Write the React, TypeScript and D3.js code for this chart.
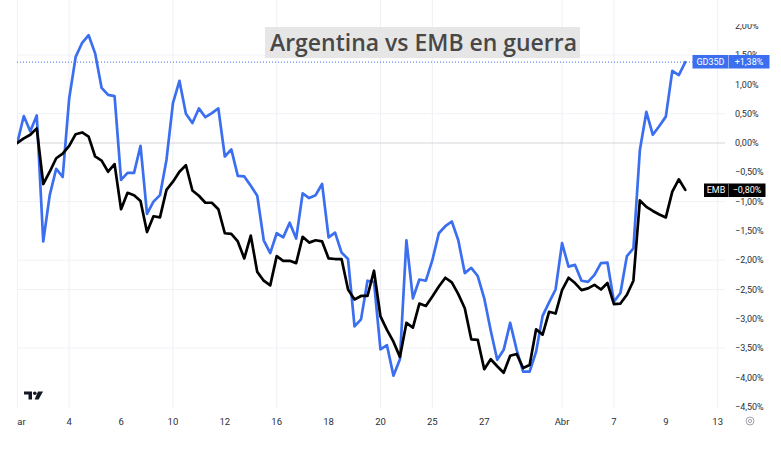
import React from "react";
import * as d3 from "d3";

// % change since start, one value per bar (4 bars per trading day)
const gd35d = [
  0.0, 0.46, 0.2, 0.47, -1.68, -0.89, -0.44, -0.58, 0.76, 1.47, 1.71, 1.84, 1.53, 0.94, 0.82, 0.8,
  -0.63, -0.51, -0.51, -0.05, -1.21, -1.0, -0.89, -0.29, 0.68, 1.06, 0.5, 0.34, 0.59, 0.44, 0.51, 0.59,
  -0.23, -0.11, -0.56, -0.57, -0.73, -0.9, -1.66, -1.88, -1.54, -1.61, -1.36, -1.63, -0.86, -0.94, -0.89, -0.7,
  -1.61, -1.53, -1.87, -1.98, -3.13, -3.01, -2.35, -2.37, -3.52, -3.45, -3.97, -3.69, -1.66, -2.65, -2.33, -2.35,
  -2.0, -1.54, -1.42, -1.34, -1.66, -2.22, -2.13, -2.27, -2.65, -3.2, -3.7, -3.53, -3.07, -3.53, -3.9, -3.9,
  -3.56, -2.95, -2.72, -2.5, -1.71, -2.11, -2.08, -2.35, -2.37, -2.25, -2.05, -2.04, -2.71, -2.56, -1.93, -1.8,
  -0.12, 0.53, 0.14, 0.29, 0.45, 1.23, 1.16, 1.38,
];

const emb = [
  0.0, 0.08, 0.14, 0.25, -0.7, -0.49, -0.26, -0.18, -0.05, 0.15, 0.18, 0.11, -0.23, -0.3, -0.49, -0.36,
  -1.13, -0.85, -0.89, -0.99, -1.52, -1.25, -1.27, -0.8, -0.66, -0.49, -0.38, -0.81, -0.9, -1.02, -1.02, -1.13,
  -1.54, -1.55, -1.68, -1.97, -1.58, -2.2, -2.35, -2.43, -1.93, -2.01, -2.01, -2.05, -1.6, -1.7, -1.66, -1.68,
  -1.97, -1.98, -1.98, -2.5, -2.67, -2.61, -2.61, -2.18, -2.96, -3.19, -3.39, -3.65, -3.07, -3.15, -2.74, -2.78,
  -2.62, -2.45, -2.3, -2.38, -2.58, -2.82, -3.35, -3.36, -3.86, -3.69, -3.81, -3.92, -3.63, -3.6, -3.84, -3.79,
  -3.18, -3.27, -2.88, -2.91, -2.51, -2.3, -2.39, -2.51, -2.48, -2.42, -2.5, -2.39, -2.75, -2.74, -2.59, -2.35,
  -0.98, -1.09, -1.16, -1.22, -1.27, -0.83, -0.62, -0.8,
];

// bottom axis: bar index of each label
const tickBars = [0, 8, 16, 24, 32, 40, 48, 56, 64, 72, 84, 92, 100, 108];
const tickLabels = ["Mar", "4", "6", "10", "12", "16", "18", "20", "25", "27", "Abr", "7", "9", "13"];
const tickGrid = [true, true, false, true, false, true, false, true, true, false, true, true, false, true];

const yTicks = [2, 1.5, 1, 0.5, 0, -0.5, -1, -1.5, -2, -2.5, -3, -3.5, -4, -4.5];
const yGrid = [1.5, 0.5, -1, -2, -2.5, -3.5];

const W = 781;
const H = 451;
const BLUE = "#3b6ff0";
const FONT = "Roboto, 'Liberation Sans', sans-serif";

const locale = d3.formatLocale({
  decimal: ",",
  thousands: ".",
  grouping: [3],
  currency: ["", ""],
  minus: "\u2212",
});
const fmtAxis = locale.format(".2f");
const fmtSigned = locale.format("+.2f");

export default function App() {
  const x = d3.scaleLinear().domain([0, 108]).range([17.3, 717.7]);
  const y = d3.scaleLinear().domain([-4.5, 2]).range([406.7, 25.8]);

  const line = d3
    .line<number>()
    .x((_, i) => x(i))
    .y((d) => y(d));

  const lastBlue = gd35d[gd35d.length - 1];
  const lastBlack = emb[emb.length - 1];

  return (
    <svg
      width={W}
      height={H}
      style={{ position: "absolute", left: 0, top: 0, background: "#fff" }}
      fontFamily={FONT}
    >
      <defs>
        <clipPath id="pane">
          <rect x={17} y={0} width={730} height={410} />
        </clipPath>
        <clipPath id="axisR">
          <rect x={17} y={24} width={764} height={418} />
        </clipPath>
        <clipPath id="axisB">
          <rect x={17} y={410} width={720} height={30} />
        </clipPath>
      </defs>

      {/* grid */}
      <g clipPath="url(#pane)">
        {tickBars.map((b, i) =>
          tickGrid[i] ? (
            <line key={"v" + i} x1={x(b)} x2={x(b)} y1={0} y2={408} stroke="#eef0f4" strokeWidth={1} />
          ) : null
        )}
        {yGrid.map((v) => (
          <line key={"h" + v} x1={17} x2={725} y1={y(v)} y2={y(v)} stroke="#f0f2f6" strokeWidth={1} />
        ))}
        <line x1={17} x2={725} y1={y(0)} y2={y(0)} stroke="#d4d6da" strokeWidth={1} />
      </g>

      {/* last value line of GD35D */}
      <line
        x1={17}
        x2={693}
        y1={y(lastBlue)}
        y2={y(lastBlue)}
        stroke={BLUE}
        strokeWidth={1}
        strokeDasharray="1 2"
      />

      {/* title */}
      <rect x={265} y={27} width={315} height={31} fill="#e6e6e6" />
      <text
        x={270}
        y={50.5}
        fontFamily="'Open Sans', 'Noto Sans', sans-serif"
        fontWeight={600}
        fontSize={24}
        fill="#484848"
        textLength={307}
        lengthAdjust="spacingAndGlyphs"
      >
        Argentina vs EMB en guerra
      </text>

      {/* series */}
      <g clipPath="url(#pane)" fill="none" strokeLinejoin="round" strokeLinecap="round">
        <path d={line(gd35d) || ""} stroke={BLUE} strokeWidth={2.7} />
        <path d={line(emb) || ""} stroke="#000" strokeWidth={2.7} />
      </g>

      {/* right axis */}
      <g clipPath="url(#axisR)" fontSize={9} fill="#2a2e39">
        {yTicks.map((v) => (
          <text key={"yt" + v} x={735} y={y(v)} dy="0.35em">
            {fmtAxis(v) + "%"}
          </text>
        ))}
      </g>

      {/* last value labels */}
      <g fontSize={9} fill="#fff">
        <rect x={692.5} y={55} width={36} height={13.5} fill={BLUE} />
        <rect x={728.5} y={55} width={41} height={13.5} fill={BLUE} />
        <line x1={728.5} x2={728.5} y1={55} y2={68.5} stroke="#9db7f7" strokeWidth={0.8} />
        <text x={710.5} y={y(lastBlue)} dy="0.35em" textAnchor="middle">GD35D</text>
        <text x={749} y={y(lastBlue)} dy="0.35em" textAnchor="middle">
          {fmtSigned(lastBlue) + "%"}
        </text>

        <rect x={704} y={183.5} width={24.5} height={13.5} fill="#000" />
        <rect x={728.5} y={183.5} width={37} height={13.5} fill="#000" />
        <line x1={728.5} x2={728.5} y1={183.5} y2={197} stroke="#666" strokeWidth={0.8} />
        <text x={716} y={y(lastBlack)} dy="0.35em" textAnchor="middle">EMB</text>
        <text x={747} y={y(lastBlack)} dy="0.35em" textAnchor="middle">
          {fmtSigned(lastBlack) + "%"}
        </text>
      </g>

      {/* bottom axis */}
      <g clipPath="url(#axisB)" fontSize={9.5} fill="#2a2e39">
        {tickBars.map((b, i) => (
          <text key={"xt" + i} x={x(b)} y={424.5} textAnchor="middle">
            {tickLabels[i]}
          </text>
        ))}
      </g>

      {/* TradingView mark */}
      <g fill="#131722">
        <path d="M24 391.5 H32 V399.5 H28.5 V394.5 H24 Z" />
        <circle cx={34.8} cy={393.2} r={1.8} />
        <path d="M38 391.5 H43 L38.6 399.5 H34.6 Z" />
      </g>

      {/* settings icon */}
      <g fill="none" stroke="#9598a1" strokeWidth={0.9}>
        <circle cx={750} cy={421} r={4} />
        <circle cx={750} cy={421} r={1.6} />
      </g>
    </svg>
  );
}
